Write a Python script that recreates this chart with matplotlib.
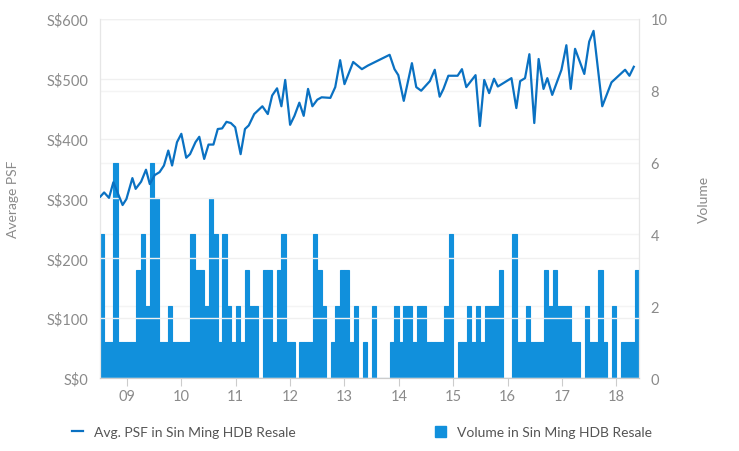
import matplotlib.pyplot as plt
from matplotlib.lines import Line2D
from matplotlib.patches import Patch

plt.rcParams['font.family'] = 'Lato'

# Avg PSF line (decimal year, S$ psf)
psf_years = [2008.51, 2008.58, 2008.67, 2008.75, 2008.92, 2008.99, 2009.10, 2009.16, 2009.26, 2009.35,
             2009.42, 2009.51, 2009.60, 2009.68, 2009.76, 2009.83, 2009.92, 2010.00, 2010.09, 2010.16,
             2010.26, 2010.33, 2010.42, 2010.50, 2010.59, 2010.67, 2010.75, 2010.83, 2010.91, 2010.99,
             2011.09, 2011.17, 2011.24, 2011.34, 2011.49, 2011.59, 2011.67, 2011.76, 2011.84, 2011.91,
             2012.00, 2012.08, 2012.17, 2012.25, 2012.33, 2012.41, 2012.50, 2012.58, 2012.74, 2012.83,
             2012.92, 2013.00, 2013.16, 2013.32, 2013.43, 2013.83, 2013.92, 2013.99, 2014.09, 2014.24,
             2014.32, 2014.41, 2014.57, 2014.66, 2014.75, 2014.82, 2014.91, 2015.08, 2015.16, 2015.24,
             2015.41, 2015.49, 2015.57, 2015.66, 2015.75, 2015.82, 2016.07, 2016.16, 2016.23, 2016.32,
             2016.40, 2016.49, 2016.57, 2016.66, 2016.73, 2016.82, 2016.99, 2017.08, 2017.16, 2017.24,
             2017.41, 2017.50, 2017.58, 2017.74, 2017.91, 2018.16, 2018.24, 2018.32]
psf_values = [303, 310, 301, 327, 289, 299, 334, 316, 328, 348,
              324, 339, 344, 355, 380, 355, 394, 408, 368, 374,
              394, 403, 366, 390, 390, 416, 417, 428, 426, 419,
              374, 416, 422, 441, 454, 441, 472, 484, 454, 498,
              423, 438, 460, 438, 483, 454, 465, 469, 468, 486,
              531, 491, 528, 516, 522, 540, 516, 506, 463, 526,
              486, 480, 496, 515, 470, 483, 505, 505, 516, 486,
              506, 421, 498, 476, 500, 487, 501, 451, 496, 501,
              541, 426, 533, 483, 501, 473, 515, 556, 483, 550,
              508, 562, 580, 454, 494, 515, 505, 520]

# Monthly volume starting Jul 2008
vol_start = 2008.5
volumes = [4, 1, 1, 6, 1, 1, 1, 1, 3, 4, 2, 6, 5, 1, 1, 2, 1, 1, 1, 1,
           4, 3, 3, 2, 5, 4, 1, 4, 2, 1, 2, 1, 3, 2, 2, 0, 3, 3, 1, 3,
           4, 1, 1, 0, 1, 1, 1, 4, 3, 2, 0, 1, 2, 3, 3, 1, 2, 0, 1, 0,
           2, 0, 0, 0, 1, 2, 1, 2, 2, 1, 2, 2, 1, 1, 1, 1, 2, 4, 0, 1,
           1, 2, 1, 2, 1, 2, 2, 2, 3, 0, 0, 4, 1, 1, 2, 1, 1, 1, 3, 2,
           3, 2, 2, 2, 1, 1, 0, 2, 1, 1, 3, 1, 0, 2, 0, 1, 1, 1, 3]

year_ticks = [2009, 2010, 2011, 2012, 2013, 2014, 2015, 2016, 2017, 2018]
year_labels = ['09', '10', '11', '12', '13', '14', '15', '16', '17', '18']
psf_ticks = [0, 100, 200, 300, 400, 500, 600]

line_color = '#0a71c2'
bar_color = '#1190dc'
text_color = '#8a8a8a'

fig = plt.figure(figsize=(7.39, 4.52), dpi=100)
ax = fig.add_axes([0.135, 0.1615, 0.73, 0.7945])
ax2 = ax.twinx()

bar_x = [vol_start + i / 12 for i in range(len(volumes))]
ax2.bar(bar_x, volumes, width=1 / 12, align='edge', color=bar_color,
        edgecolor=bar_color, linewidth=0.8, zorder=2)
ax2.set_ylim(0, 10)
ax2.set_yticks(range(0, 11, 2))
ax2.set_ylabel('Volume', color=text_color, fontsize=10, labelpad=22)

ax.set_zorder(ax2.get_zorder() + 1)
ax.patch.set_visible(False)
ax.plot(psf_years, psf_values, color=line_color, linewidth=1.6, zorder=3)
ax.set_ylim(0, 600)
ax.set_yticks(psf_ticks)
ax.set_yticklabels(['S$' + str(v) for v in psf_ticks])
ax.set_ylabel('Average PSF', color=text_color, fontsize=10, labelpad=20)
ax.set_xlim(2008.5, 2018.42)
ax.set_xticks(year_ticks)
ax.set_xticklabels(year_labels)
ax.grid(axis='y', color='#f0f0f0', linewidth=1)
ax2.grid(axis='y', color='#f4f4f4', linewidth=1)
ax.set_axisbelow(True)

for a in (ax, ax2):
    for s in a.spines.values():
        s.set_color('#e6e6e6')
    a.spines['top'].set_visible(False)
    a.spines['bottom'].set_color('#cccccc')
    a.tick_params(colors=text_color, labelsize=10.5, length=0, pad=8)
ax.tick_params(axis='x', length=6, color='#cccccc', pad=2)

handles = [Line2D([0], [0], color=line_color, linewidth=1.6),
           Patch(color=bar_color)]
fig.legend(handles, ['Avg. PSF in Sin Ming HDB Resale', 'Volume in Sin Ming HDB Resale'],
           loc='lower center', bbox_to_anchor=(0.49, 0.0), ncol=2, frameon=False,
           fontsize=10, labelcolor='#555555', columnspacing=10, handlelength=0.8,
           handleheight=0.8)

fig.savefig('out.png', dpi=100)
